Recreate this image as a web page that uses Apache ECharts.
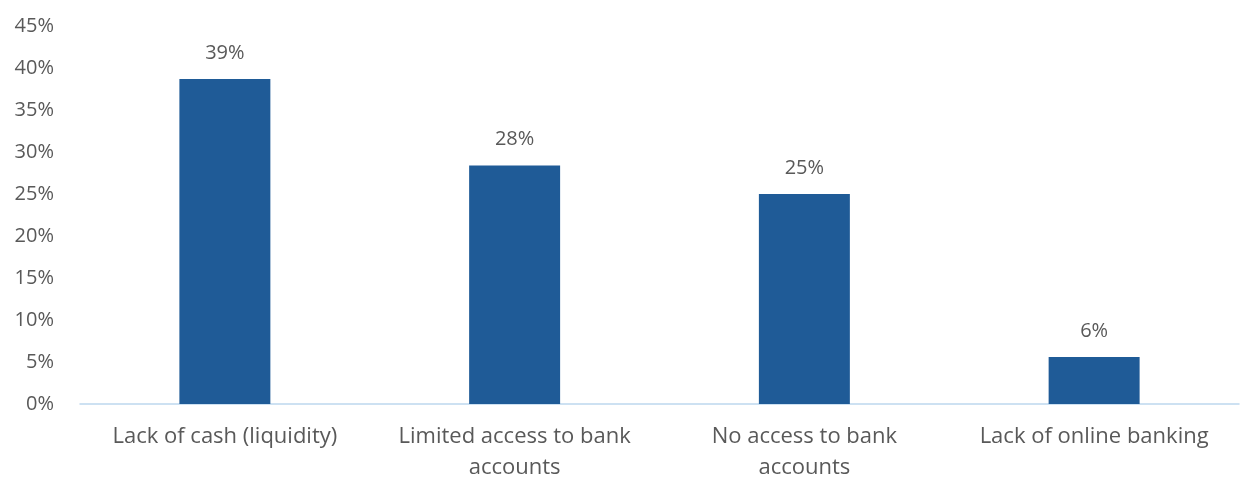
<!DOCTYPE html>
<html>
<head>
<meta charset="utf-8">
<script src="https://cdn.jsdelivr.net/npm/echarts@6/dist/echarts.min.js"></script>
<style>
  html, body { margin: 0; padding: 0; background: #ffffff; }
  #chart { width: 1243px; height: 480px; }
</style>
</head>
<body>
<div id="chart"></div>
<script>
// Barriers reported, share of respondents (%)
const categories = [
  'Lack of cash (liquidity)',
  'Limited access to bank\naccounts',
  'No access to bank\naccounts',
  'Lack of online banking'
];
const shares = [38.7, 28.4, 25.0, 5.6];
const yTicks = { min: 0, max: 45, interval: 5 };

const textColor = '#595959';
const fontFamily = '"Open Sans", Lato, sans-serif';

const chart = echarts.init(document.getElementById('chart'));
chart.setOption({
  animation: false,
  grid: {
    left: 80, right: 4, top: 26, bottom: 76,
    containLabel: false,
    outerBoundsMode: 'none'
  },
  xAxis: {
    type: 'category',
    data: categories,
    axisLine: { lineStyle: { color: '#BDD7EE', width: 1.5 } },
    axisTick: { show: false },
    axisLabel: {
      color: textColor,
      fontFamily: fontFamily,
      fontSize: 22,
      lineHeight: 31,
      margin: 17,
      interval: 0
    }
  },
  yAxis: {
    type: 'value',
    min: yTicks.min,
    max: yTicks.max,
    interval: yTicks.interval,
    splitLine: { show: false },
    axisLine: { show: false },
    axisTick: { show: false },
    axisLabel: {
      color: textColor,
      fontFamily: fontFamily,
      fontSize: 20,
      margin: 26,
      formatter: v => v + '%'
    }
  },
  series: [{
    type: 'bar',
    data: shares,
    barWidth: '31.4%',
    itemStyle: { color: '#1F5B97' },
    label: {
      show: true,
      position: 'top',
      distance: 16,
      color: textColor,
      fontFamily: fontFamily,
      fontSize: 20,
      formatter: p => Math.round(p.value) + '%'
    }
  }]
});
</script>
</body>
</html>
